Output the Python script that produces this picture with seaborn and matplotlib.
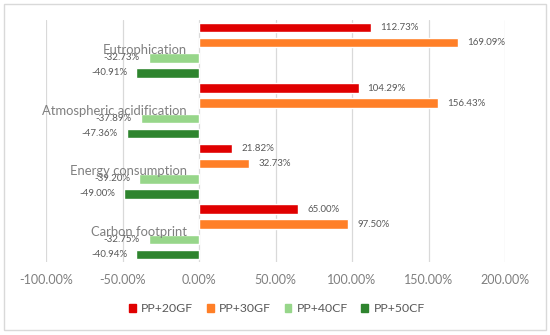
import matplotlib
matplotlib.use("Agg")
import matplotlib.pyplot as plt
from matplotlib.patches import Rectangle
import pandas as pd
import seaborn as sns

categories = ["Eutrophication", "Atmospheric acidification", "Energy consumption", "Carbon footprint"]
scenarios = ["PP+20GF", "PP+30GF", "PP+40CF", "PP+50CF"]
pp20gf = [112.73, 104.29, 21.82, 65.00]
pp30gf = [169.09, 156.43, 32.73, 97.50]
pp40cf = [-32.73, -37.89, -39.20, -32.75]
pp50cf = [-40.91, -47.36, -49.00, -40.94]
colors = ["#E00000", "#FF7F27", "#97D68A", "#2E842E"]
xticks = [-100, -50, 0, 50, 100, 150, 200]

rows = []
for name, vals in zip(scenarios, [pp20gf, pp30gf, pp40cf, pp50cf]):
    for cat, v in zip(categories, vals):
        rows.append({"category": cat, "scenario": name, "value": v})
df = pd.DataFrame(rows)

sns.set_style("white")
plt.rcParams["font.family"] = ["Lato", "DejaVu Sans"]
grey = "#7F7F7F"

fig = plt.figure(figsize=(5.5, 3.35), dpi=100)
ax = fig.add_axes([46 / 550, 1 - 262 / 335, (505 - 46) / 550, (262 - 20) / 335])

sns.barplot(data=df, y="category", x="value", hue="scenario", orient="h",
            order=categories, hue_order=scenarios, palette=colors, saturation=1,
            width=1.0, gap=0.37, ax=ax, legend=False)

for cont in ax.containers:
    ax.bar_label(cont, labels=[f"{b.get_width():.2f}%" for b in cont],
                 padding=6.5, fontsize=7, color="#595959")

ax.set_xlim(-100, 200)
ax.set_ylim(3.5, -0.5)
ax.set_xticks(xticks)
ax.set_xticklabels([f"{t:.2f}%" for t in xticks], fontsize=9, color=grey)
ax.tick_params(axis="x", length=0, pad=9)
ax.set_yticks([])
ax.set_xlabel("")
ax.set_ylabel("")
for s in ax.spines.values():
    s.set_visible(False)
ax.set_axisbelow(True)
ax.grid(axis="x", color="#D9D9D9", linewidth=0.9)

for i, cat in enumerate(categories):
    ax.annotate(cat, xy=(0, i), xytext=(-9, 0), textcoords="offset points",
                ha="right", va="center", fontsize=9.4, color=grey)

handles = [Rectangle((0, 0), 1, 1, color=c) for c in colors]
fig.legend(handles, scenarios, loc="center", bbox_to_anchor=(277 / 550, 1 - 309 / 335),
           ncol=4, frameon=False, fontsize=8.8, labelcolor="#595959",
           handlelength=0.55, handleheight=0.55, handletextpad=0.45, columnspacing=1.1)

fig.patches.append(Rectangle((4 / 550, 1 - 330 / 335), 542 / 550, 326 / 335,
                             transform=fig.transFigure, fill=False,
                             edgecolor="#D9D9D9", linewidth=1))

fig.savefig("out.png", dpi=100)
